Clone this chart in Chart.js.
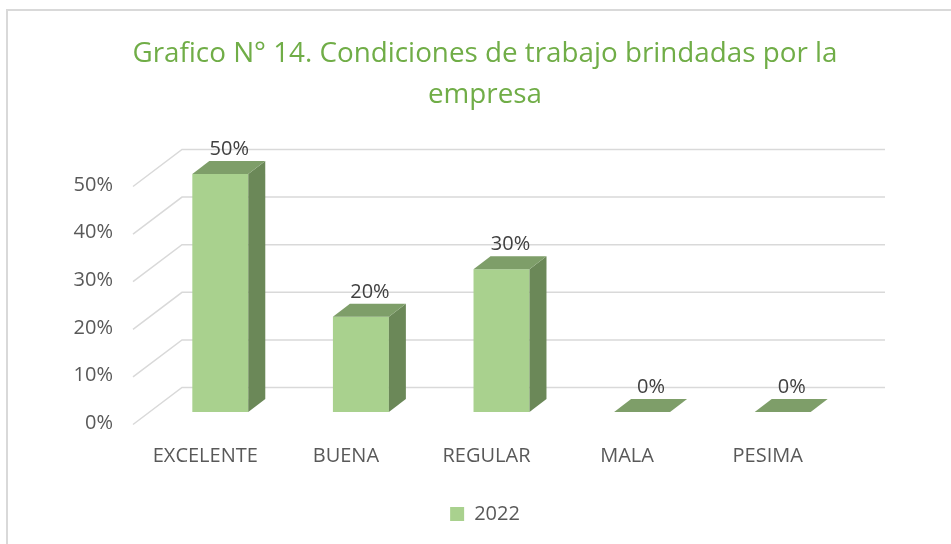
<!DOCTYPE html>
<html>
<head>
<meta charset="utf-8">
<script src="https://cdn.jsdelivr.net/npm/chart.js@4"></script>
<style>
  body { margin: 0; overflow: hidden; background: #fff; }
  #marco { position: absolute; left: 6px; top: 9px; width: 1000px; height: 600px; border: 2px solid #d9d9d9; }
  #caja { position: absolute; left: 0; top: 0; width: 951px; height: 544px; }
</style>
</head>
<body>
<div id="marco"></div>
<div id="caja"><canvas id="grafica"></canvas></div>
<script>
// datos del grafico
const categorias = ["EXCELENTE", "BUENA", "REGULAR", "MALA", "PESIMA"];
const valores2022 = [50, 20, 30, 0, 0];
const nombreSerie = "2022";
const ticksY = [0, 10, 20, 30, 40, 50];
const titulo = ["Grafico N\u00b0 14. Condiciones de trabajo brindadas por la", "empresa"];

const gris = "#595959";
const fuente = "'Open Sans', sans-serif";

// profundidad de las barras 3D
const dx = 17, dy = 13;

const efecto3D = {
  id: "efecto3D",
  beforeDatasetsDraw(chart) {
    const { ctx, chartArea, scales: { y } } = chart;
    ctx.save();
    ctx.strokeStyle = "#d9d9d9";
    ctx.lineWidth = 1.5;
    ctx.fillStyle = gris;
    ctx.font = "20px " + fuente;
    ctx.textAlign = "right";
    ctx.textBaseline = "middle";
    ticksY.forEach((v) => {
      const py = y.getPixelForValue(v);
      ctx.beginPath();
      ctx.moveTo(chartArea.left - 17, py + 12.5);
      ctx.lineTo(chartArea.left + 32, py - 24.5);
      ctx.lineTo(chartArea.right + 32, py - 24.5);
      ctx.stroke();
      // etiquetas del eje y (plano frontal)
      ctx.fillText(v + "%", chartArea.left - 37, py + 11);
    });
    ctx.restore();
  },
  afterDatasetsDraw(chart) {
    const { ctx, scales: { y } } = chart;
    const base = y.getPixelForValue(0);
    const meta = chart.getDatasetMeta(0);
    ctx.save();
    meta.data.forEach((barra, i) => {
      const { x, y: top, width } = barra.getProps(["x", "y", "width"], true);
      const l = x - width / 2, r = x + width / 2;
      // cara lateral
      if (base - top > 0.5) {
        ctx.fillStyle = "#6b8858";
        ctx.beginPath();
        ctx.moveTo(r, top);
        ctx.lineTo(r + dx, top - dy);
        ctx.lineTo(r + dx, base - dy);
        ctx.lineTo(r, base);
        ctx.closePath();
        ctx.fill();
      }
      // cara superior
      ctx.fillStyle = "#7e9e69";
      ctx.beginPath();
      ctx.moveTo(l, top);
      ctx.lineTo(r, top);
      ctx.lineTo(r + dx, top - dy);
      ctx.lineTo(l + dx, top - dy);
      ctx.closePath();
      ctx.fill();
      // etiqueta
      ctx.fillStyle = "#404040";
      ctx.font = "20px " + fuente;
      ctx.textAlign = "center";
      ctx.textBaseline = "middle";
      ctx.fillText(valores2022[i] + "%", x + 9, top - 25);
    });
    ctx.restore();
  }
};

const ctx = document.getElementById("grafica");

new Chart(ctx, {
  type: "bar",
  data: {
    labels: categorias,
    datasets: [
      {
        label: nombreSerie,
        data: valores2022,
        backgroundColor: "#a9d18e",
        borderWidth: 0,
        barPercentage: 0.398,
        categoryPercentage: 1,
      },
    ],
  },
  plugins: [efecto3D],
  options: {
    responsive: true,
    maintainAspectRatio: false,
    animation: false,
    layout: { padding: { left: 117, right: 98, top: 10, bottom: 10 } },
    plugins: {
      title: {
        display: true,
        text: titulo,
        color: "#70ad47",
        font: { family: fuente, size: 27.8, weight: "normal", lineHeight: 1.475 },
        padding: { top: 24, bottom: 58 },
      },
      legend: {
        position: "bottom",
        labels: {
          color: gris,
          font: { family: fuente, size: 20 },
          boxWidth: 14,
          boxHeight: 14,
          padding: 4,
        },
      },
      tooltip: { enabled: false },
    },
    scales: {
      x: {
        grid: { display: false, drawTicks: false },
        border: { display: false },
        ticks: { color: gris, font: { family: fuente, size: 20 }, padding: 32, labelOffset: -15 },
      },
      y: {
        min: 0,
        max: 50,
        afterFit: (s) => { s.width = 33; },
        grid: { display: false, drawTicks: false },
        border: { display: false },
        ticks: { display: false, stepSize: 10 },
      },
    },
  },
});
</script>
</body>
</html>
